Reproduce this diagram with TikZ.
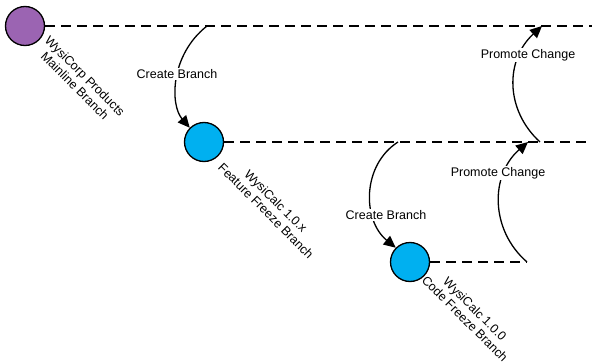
\documentclass[tikz,border=0pt]{standalone}
\usepackage{fontspec}
\setmainfont{Liberation Sans}
\usetikzlibrary{arrows.meta}
\definecolor{mainpurple}{RGB}{155,100,178}
\definecolor{branchblue}{RGB}{0,176,240}
\begin{document}
\begin{tikzpicture}[x=1pt,y=-1pt,
  branchnode/.style={circle,draw=black,line width=1.3pt,minimum size=39pt,inner sep=0pt},
  dashline/.style={line width=1.3pt,dash pattern=on 10pt off 6pt},
  flow/.style={line width=1.3pt,-{Triangle[length=12pt,width=11pt]}},
  lbl/.style={font=\fontsize{12.5}{14}\selectfont,fill=white,inner sep=1pt},
  rlbl/.style={font=\fontsize{12.5}{14}\selectfont,align=center,rotate=-45,inner sep=0pt}]
\useasboundingbox (0,0) rectangle (592,364);
% branch nodes
\node[branchnode,fill=mainpurple] (main) at (25,26) {};
\node[branchnode,fill=branchblue] (feat) at (204,142) {};
\node[branchnode,fill=branchblue] (code) at (410,262) {};
% line ends
\coordinate (mainend) at (592,26);
\coordinate (featend) at (592,142);
\coordinate (codeend) at (527,262);
\coordinate (cb1s) at (207,26);
\coordinate (cb2s) at (398,142);
\coordinate (pc1s) at (540,142);
\coordinate (pc1e) at (542,26);
\coordinate (pc2e) at (528,142);
% dashed branch lines
\draw[dashline] (main.east) -- (mainend);
\draw[dashline] (feat.east) -- (featend);
\draw[dashline] (code.east) -- (codeend);
% connectors
\draw[flow] (cb1s) .. controls (170,55) and (170,105) .. (feat.north west);
\draw[flow] (cb2s) .. controls (362,165) and (362,220) .. (code.north west);
\draw[flow] (codeend) .. controls (490,230) and (490,175) .. (pc2e);
\draw[flow] (pc1s) .. controls (505,110) and (505,60) .. (pc1e);
% connector labels
\node[lbl] (l1) at (177,74) {Create Branch};
\node[lbl] (l2) at (386,215) {Create Branch};
\node[lbl] (l3) at (498,173) {Promote Change};
\node[lbl] (l4) at (528,55) {Promote Change};
% branch labels
\node[rlbl] (t1) at (80,81) {WysiCorp Products\\Mainline Branch};
\node[rlbl] (t2) at (271,206) {WysiCalc 1.0.x\\Feature Freeze Branch};
\node[rlbl] (t3) at (470,314) {WysiCalc 1.0.0\\Code Freeze Branch};
\end{tikzpicture}
\end{document}
